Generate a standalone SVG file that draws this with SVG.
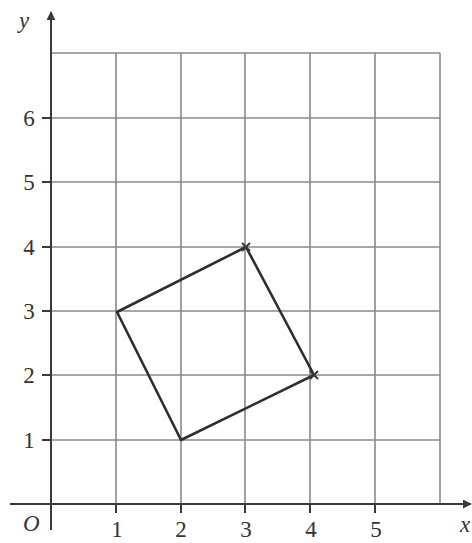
<svg xmlns="http://www.w3.org/2000/svg" width="472" height="543" viewBox="0 0 472 543">
<style>
.grid{stroke:#8a8a8a;stroke-width:1.6;fill:none}
.axis{stroke:#3a3a3a;stroke-width:2;fill:none}
.tick{stroke:#3a3a3a;stroke-width:2}
.shape{stroke:#2e2e2e;stroke-width:2.6;fill:none;stroke-linejoin:round}
.lbl{font-family:"Liberation Serif",serif;font-size:23px;fill:#333}
.it{font-style:italic}
</style>
<defs>
<marker id="arr" viewBox="0 0 10 10" refX="9" refY="5" markerWidth="9" markerHeight="9" orient="auto" markerUnits="userSpaceOnUse">
<path d="M0,0 L10,5 L0,10 z" fill="#3a3a3a"/>
</marker>
</defs>
<g id="grid">
<path class="grid" d="M116,53V504 M181,53V504 M245,53V504 M310,53V504 M375,53V504 M440,53V504"/>
<path class="grid" d="M51,53H440 M51,118H440 M51,182H440 M51,247H440 M51,311H440 M51,375H440 M51,440H440"/>
</g>
<g id="axes">
<line class="axis" x1="51" y1="530" x2="51" y2="12" marker-end="url(#arr)"/>
<line class="axis" x1="10" y1="504" x2="471" y2="504" marker-end="url(#arr)"/>
<path class="tick" d="M116,504V513 M181,504V513 M245,504V513 M310,504V513 M375,504V513"/>
<path class="tick" d="M42,118H51 M42,182H51 M42,247H51 M42,311H51 M42,375H51 M42,440H51"/>
</g>
<g id="labels">
<text class="lbl it" x="19" y="28">y</text>
<text class="lbl it" x="460" y="532">x</text>
<text class="lbl it" x="23" y="531">O</text>
<text class="lbl" x="117" y="537" text-anchor="middle">1</text>
<text class="lbl" x="181" y="537" text-anchor="middle">2</text>
<text class="lbl" x="246" y="537" text-anchor="middle">3</text>
<text class="lbl" x="311" y="537" text-anchor="middle">4</text>
<text class="lbl" x="376" y="537" text-anchor="middle">5</text>
<text class="lbl" x="29" y="126" text-anchor="middle">6</text>
<text class="lbl" x="29" y="190" text-anchor="middle">5</text>
<text class="lbl" x="29" y="255" text-anchor="middle">4</text>
<text class="lbl" x="29" y="319" text-anchor="middle">3</text>
<text class="lbl" x="29" y="383" text-anchor="middle">2</text>
<text class="lbl" x="29" y="448" text-anchor="middle">1</text>
</g>
<g id="square">
<polygon class="shape" points="117,312 246,247 314,375 181,440"/>
<path class="tick" d="M242,243L250,251 M250,243L242,251 M310,371L318,379 M318,371L310,379"/>
</g>
</svg>
